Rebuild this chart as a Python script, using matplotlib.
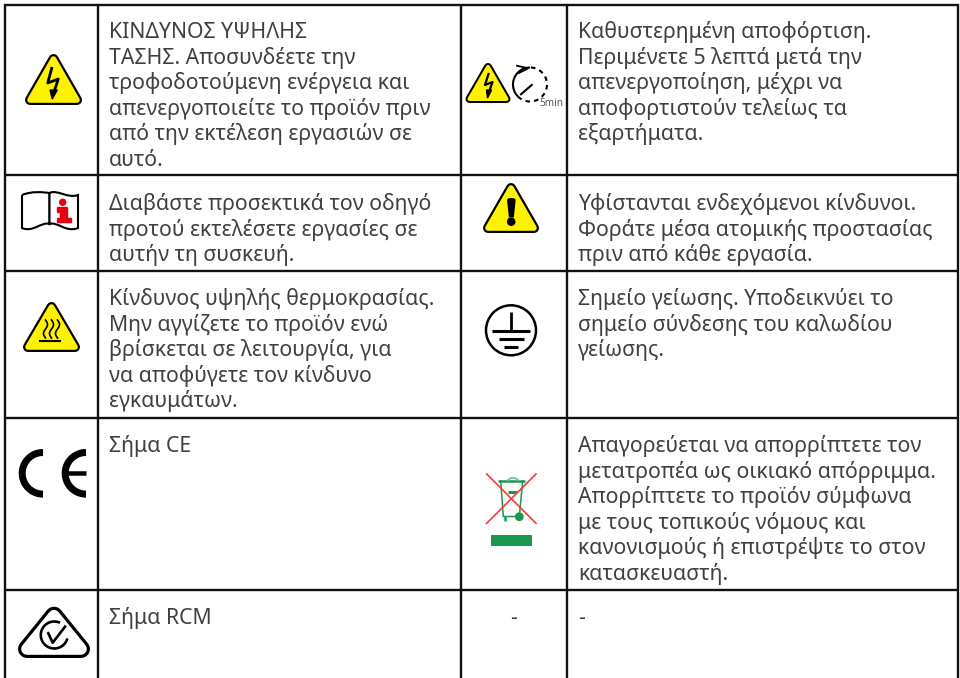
import matplotlib
matplotlib.use('Agg')
import matplotlib.pyplot as plt
import numpy as np
from matplotlib.patches import Polygon, Circle, Rectangle, PathPatch
from matplotlib.path import Path

plt.rcParams['font.family'] = ['Noto Sans', 'DejaVu Sans']

# table contents, one list per column
left_texts = [
    ['ΚΙΝΔΥΝΟΣ ΥΨΗΛΗΣ', 'ΤΑΣΗΣ. Αποσυνδέετε την', 'τροφοδοτούμενη ενέργεια και',
     'απενεργοποιείτε το προϊόν πριν', 'από την εκτέλεση εργασιών σε', 'αυτό.'],
    ['Διαβάστε προσεκτικά τον οδηγό', 'προτού εκτελέσετε εργασίες σε', 'αυτήν τη συσκευή.'],
    ['Κίνδυνος υψηλής θερμοκρασίας.', 'Μην αγγίζετε το προϊόν ενώ', 'βρίσκεται σε λειτουργία, για',
     'να αποφύγετε τον κίνδυνο', 'εγκαυμάτων.'],
    ['Σήμα CE'],
    ['Σήμα RCM'],
]
right_texts = [
    ['Καθυστερημένη αποφόρτιση.', 'Περιμένετε 5 λεπτά μετά την', 'απενεργοποίηση, μέχρι να',
     'αποφορτιστούν τελείως τα', 'εξαρτήματα.'],
    ['Υφίστανται ενδεχόμενοι κίνδυνοι.', 'Φοράτε μέσα ατομικής προστασίας', 'πριν από κάθε εργασία.'],
    ['Σημείο γείωσης. Υποδεικνύει το', 'σημείο σύνδεσης του καλωδίου', 'γείωσης.'],
    ['Απαγορεύεται να απορρίπτετε τον', 'μετατροπέα ως οικιακό απόρριμμα.', 'Απορρίπτετε το προϊόν σύμφωνα',
     'με τους τοπικούς νόμους και', 'κανονισμούς ή επιστρέψτε το στον', 'κατασκευαστή.'],
    ['-'],
]
col_lines = [4.5, 98, 460.5, 567, 957.5]
row_lines = [4.5, 175, 271, 418, 590, 678]
first_baselines = [38, 210, 305, 452, 624]

fig = plt.figure(figsize=(9.6, 6.78), dpi=100)
ax = fig.add_axes([0, 0, 1, 1])
ax.set_xlim(0, 960)
ax.set_ylim(678, 0)
ax.axis('off')

for x in col_lines:
    ax.plot([x, x], [row_lines[0] - 1, 678], color='#111111', lw=1.7, solid_capstyle='butt')
for y in row_lines[:-1]:
    ax.plot([col_lines[0] - 1, col_lines[-1] + 1], [y, y], color='#111111', lw=1.7, solid_capstyle='butt')

text_color = '#404040'
fs = 15.3
line_h = 25.6
for i, lines in enumerate(left_texts):
    for n, t in enumerate(lines):
        ax.text(109, first_baselines[i] + n * line_h, t, fontsize=fs, color=text_color, va='baseline', ha='left')
for i, lines in enumerate(right_texts):
    for n, t in enumerate(lines):
        ax.text(578, first_baselines[i] + n * line_h, t, fontsize=fs, color=text_color, va='baseline', ha='left')
ax.text(513.7, 624, '-', fontsize=fs, color=text_color, ha='center', va='baseline')

BLACK = 'black'
YELLOW = '#fff200'


def px(v):
    # pixels to points at dpi 100
    return v * 72 / 100


def rounded_tri(cx, top, bottom, half, r, stroke, fill):
    # outer bounds given, corners rounded through thick round joins
    pts = [(cx, top + r * 1.0), (cx + half - r, bottom - r), (cx - half + r, bottom - r)]
    ax.add_patch(Polygon(pts, closed=True, facecolor=BLACK, edgecolor=BLACK, lw=px(2 * r), joinstyle='round', zorder=3))
    ax.add_patch(Polygon(pts, closed=True, facecolor=fill, edgecolor=fill, lw=px(2 * (r - stroke)), joinstyle='round', zorder=4))


def circle_arc(cx, cy, r, a1, a2, **kw):
    # a1, a2 in degrees, counted anticlockwise on screen
    t = np.radians(np.linspace(a1, a2, 80))
    kw.setdefault('solid_capstyle', 'butt')
    return ax.plot(cx + r * np.cos(t), cy - r * np.sin(t), **kw)


# high voltage
rounded_tri(53.5, 54, 105, 28.5, 5, 2.2, YELLOW)
ax.plot([51.7, 47.7, 58.3, 54], [68.3, 83, 79, 92], color=BLACK, lw=2, zorder=5)
ax.add_patch(Polygon([(50, 90), (57.3, 90), (52.3, 99)], closed=True, color=BLACK, zorder=5))

# delayed discharge
rounded_tri(488, 63, 103, 22.5, 4, 2, YELLOW)
ax.plot([488.5, 485, 492.5, 489], [74, 85, 82, 92], color=BLACK, lw=1.6, zorder=5)
ax.add_patch(Polygon([(486.5, 90), (491.5, 90), (487.5, 98)], closed=True, color=BLACK, zorder=5))
circle_arc(530, 84.5, 17, -135, 90, color=BLACK, lw=1.5, linestyle=(0, (2.2, 2)), zorder=5)
circle_arc(530, 84.5, 17, 90, 225, color=BLACK, lw=1.5, zorder=5)
ax.plot([521, 531.7], [94.3, 85], color=BLACK, lw=1.5, zorder=5)
ax.plot([517, 528, 519], [65.7, 68.3, 73], color=BLACK, lw=1.3, zorder=5)
ax.text(551.5, 104, '5min', fontsize=7.2, color='#555555', ha='center', va='center')

# manual book
left_page = Path([(22, 195), (32, 191), (42, 192), (49.5, 193), (49.5, 224), (42, 221), (33, 233), (22, 228), (22, 195)],
                 [Path.MOVETO, Path.CURVE4, Path.CURVE4, Path.CURVE4, Path.LINETO, Path.CURVE4, Path.CURVE4, Path.CURVE4, Path.LINETO])
right_page = Path([(49.5, 193), (57, 189), (68, 199), (78, 195), (78, 228), (66, 233), (57, 221), (49.5, 224), (49.5, 193)],
                  [Path.MOVETO, Path.CURVE4, Path.CURVE4, Path.CURVE4, Path.LINETO, Path.CURVE4, Path.CURVE4, Path.CURVE4, Path.LINETO])
ax.add_patch(PathPatch(left_page, facecolor='white', edgecolor=BLACK, lw=1.5))
ax.add_patch(PathPatch(right_page, facecolor='white', edgecolor=BLACK, lw=1.5))
ax.add_patch(Circle((62.7, 202.3), 3, color='#e60012', zorder=5))
ax.add_patch(Polygon([(57, 207.3), (66.5, 207.3), (66.5, 217.5), (71, 217.5), (71, 222), (57, 222), (57, 217.5),
                      (60, 217.5), (60, 212), (57, 212)], closed=True, color='#e60012', zorder=5))

# exclamation triangle
rounded_tri(511, 183, 233, 28, 5, 2.2, YELLOW)
ax.add_patch(Polygon([(507.7, 200), (509, 198.8), (513.5, 198.8), (515, 200), (513.2, 216.7), (509.5, 216.7)], closed=True, color=BLACK, zorder=5))
ax.add_patch(Circle((511.2, 221.7), 3.6, color=BLACK, zorder=5))

# hot surface
rounded_tri(51.5, 302, 352, 28.5, 5, 2.2, YELLOW)
for x0 in (45.5, 51.5, 57.5):
    ys = np.linspace(320, 338, 40)
    ax.plot(x0 + 2 * np.sin((ys - 320) / 18 * 2 * np.pi), ys, color=BLACK, lw=1.2, zorder=5)
ax.plot([39, 61], [340.7, 340.7], color=BLACK, lw=1.5, solid_capstyle='butt', zorder=5)

# ground symbol
ax.add_patch(Circle((511, 330.3), 25, facecolor='white', edgecolor=BLACK, lw=1.8))
ax.plot([511, 511], [311.7, 331], color=BLACK, lw=2, solid_capstyle='butt')
ax.plot([492, 530], [331.3, 331.3], color=BLACK, lw=2.2, solid_capstyle='butt')
ax.plot([499, 524], [339.3, 339.3], color=BLACK, lw=2.2, solid_capstyle='butt')
ax.plot([504, 518], [347.3, 347.3], color=BLACK, lw=2.2, solid_capstyle='butt')

# CE mark
circle_arc(43, 473.3, 20.8, 90, 270, color=BLACK, lw=px(7))
circle_arc(86, 473.3, 20.8, 90, 270, color=BLACK, lw=px(7))
ax.plot([64, 86], [473, 473], color=BLACK, lw=px(4.5), solid_capstyle='butt')

# recycling bin
green = '#1a9850'
ax.plot([500.7, 503.3, 519.3, 522.7], [481, 516.5, 516.5, 481], color=green, lw=1.1)
ax.plot([498, 525], [481, 481], color=green, lw=1.8, solid_capstyle='butt')
ax.plot([508, 517], [492, 492], color=green, lw=2.2, solid_capstyle='butt')
ax.plot([508, 511, 515, 518], [480, 478, 478, 480], color='#7cc49a', lw=1.4)
ax.plot([504.5, 504.5], [516, 520.5], color=green, lw=1.8, solid_capstyle='butt')
ax.add_patch(Circle((519.3, 516.7), 3.7, color=green))
ax.add_patch(Rectangle((491, 535), 41, 11, color=green, lw=0))
ax.plot([486.7, 536], [474, 523.3], color='#e8403a', lw=1.2, zorder=5)
ax.plot([486.7, 536], [523.3, 474], color='#e8403a', lw=1.2, zorder=5)

# RCM mark
rounded_tri(54, 606.7, 658, 36, 9, 3.2, 'white')
circle_arc(54.3, 635, 13.5, 65, 345, color=BLACK, lw=1.9, zorder=5)
ax.plot([48.3, 52.7, 65], [633.3, 642.7, 626.7], color=BLACK, lw=1.9, zorder=5)

plt.savefig('out.png', dpi=100)
